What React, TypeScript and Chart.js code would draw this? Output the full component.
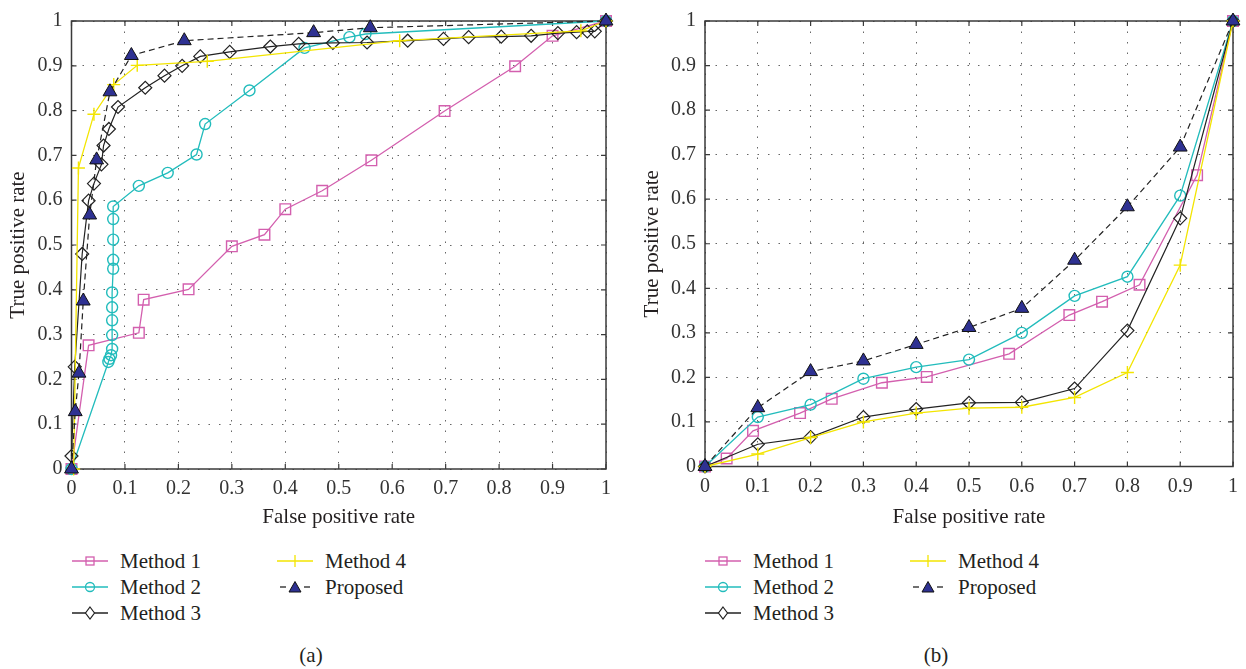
import React, { useEffect, useRef } from 'react';
import { Chart, registerables } from 'chart.js';

Chart.register(...registerables);

const tickLabels = ['0', '0.1', '0.2', '0.3', '0.4', '0.5', '0.6', '0.7', '0.8', '0.9', '1'];
const seriesNames = ['Method 1', 'Method 2', 'Method 3', 'Method 4', 'Proposed'];
const xTitle = 'False positive rate';
const yTitle = 'True positive rate';
const captions = ['(a)', '(b)'];

// ---- Panel (a) ----
const aM1x = [0, 0.032, 0.126, 0.135, 0.219, 0.3, 0.361, 0.4, 0.469, 0.561, 0.698, 0.83, 0.9, 1];
const aM1y = [0, 0.276, 0.304, 0.378, 0.401, 0.497, 0.523, 0.58, 0.621, 0.689, 0.799, 0.899, 0.967, 1];

const aM2x = [0, 0.069, 0.071, 0.074, 0.076, 0.076, 0.076, 0.076, 0.076, 0.078, 0.078, 0.078, 0.078, 0.078, 0.126, 0.18, 0.234, 0.25, 0.333, 0.436, 0.52, 0.55, 1];
const aM2y = [0, 0.239, 0.246, 0.254, 0.268, 0.299, 0.332, 0.361, 0.394, 0.447, 0.467, 0.512, 0.558, 0.586, 0.632, 0.661, 0.702, 0.77, 0.845, 0.94, 0.964, 0.971, 1];

const aM3x = [0, 0.006, 0.02, 0.032, 0.042, 0.056, 0.06, 0.07, 0.087, 0.138, 0.174, 0.207, 0.241, 0.296, 0.372, 0.425, 0.489, 0.553, 0.629, 0.696, 0.743, 0.804, 0.86, 0.91, 0.945, 0.965, 0.979, 1];
const aM3y = [0.029, 0.228, 0.48, 0.599, 0.637, 0.68, 0.722, 0.759, 0.808, 0.851, 0.878, 0.9, 0.921, 0.931, 0.943, 0.949, 0.951, 0.952, 0.956, 0.96, 0.964, 0.965, 0.967, 0.973, 0.975, 0.977, 0.977, 1];

const aM4x = [0.004, 0.013, 0.042, 0.079, 0.123, 0.254, 0.614, 0.953, 1];
const aM4y = [0, 0.672, 0.792, 0.858, 0.901, 0.91, 0.956, 0.978, 1];

const aPx = [0, 0.007, 0.014, 0.022, 0.034, 0.047, 0.072, 0.112, 0.211, 0.453, 0.559, 1];
const aPy = [0, 0.128, 0.214, 0.375, 0.567, 0.69, 0.842, 0.923, 0.956, 0.974, 0.985, 1];

// ---- Panel (b) ----
const bM1x = [0, 0.041, 0.091, 0.18, 0.24, 0.335, 0.42, 0.576, 0.69, 0.752, 0.823, 0.932, 1];
const bM1y = [0, 0.018, 0.08, 0.12, 0.152, 0.188, 0.201, 0.253, 0.34, 0.37, 0.408, 0.654, 1];

const bX = [0, 0.1, 0.2, 0.3, 0.4, 0.5, 0.6, 0.7, 0.8, 0.9, 1];
const bM2y = [0, 0.111, 0.139, 0.197, 0.223, 0.24, 0.3, 0.383, 0.426, 0.608, 1];
const bM3y = [0, 0.05, 0.066, 0.111, 0.129, 0.143, 0.144, 0.175, 0.305, 0.557, 1];
const bM4y = [0, 0.028, 0.065, 0.1, 0.12, 0.131, 0.133, 0.155, 0.211, 0.452, 1];
const bPy = [0, 0.132, 0.213, 0.237, 0.274, 0.312, 0.355, 0.463, 0.583, 0.717, 1];

const panelA = [
  { xs: aM1x, ys: aM1y },
  { xs: aM2x, ys: aM2y },
  { xs: aM3x, ys: aM3y },
  { xs: aM4x, ys: aM4y },
  { xs: aPx, ys: aPy },
];
const panelB = [
  { xs: bM1x, ys: bM1y },
  { xs: bX, ys: bM2y },
  { xs: bX, ys: bM3y },
  { xs: bX, ys: bM4y },
  { xs: bX, ys: bPy },
];

// ---- styles ----
const FONT = '"Liberation Serif", "DejaVu Serif", serif';
const TEXT = '#231f20';
const STY = [
  { line: '#d35fae', edge: '#d35fae', fill: 'rgba(0,0,0,0)', ps: 'rect', r: 7.5, lw: 1.3, pw: 1.4, dash: [] as number[], order: 4 },
  { line: '#22bcbc', edge: '#22bcbc', fill: 'rgba(0,0,0,0)', ps: 'circle', r: 5.5, lw: 1.3, pw: 1.4, dash: [] as number[], order: 3 },
  { line: '#222222', edge: '#222222', fill: 'rgba(255,255,255,0)', ps: 'rectRot', r: 6.5, lw: 1.2, pw: 1.2, dash: [] as number[], order: 2 },
  { line: '#f3e500', edge: '#f3e500', fill: 'rgba(0,0,0,0)', ps: 'cross', r: 6.5, lw: 1.3, pw: 1.4, dash: [] as number[], order: 1 },
  { line: '#222222', edge: '#111111', fill: '#2e3192', ps: 'triangle', r: 8, lw: 1.2, pw: 1, dash: [6, 4], order: 0 },
];

const boxPlugin = {
  id: 'boxTicks',
  beforeDatasetsDraw(chart: any) {
    const { ctx, chartArea: a, scales } = chart;
    ctx.save();
    ctx.strokeStyle = '#3a3a3a';
    ctx.lineWidth = 1.5;
    ctx.setLineDash([]);
    ctx.strokeRect(a.left, a.top, a.right - a.left, a.bottom - a.top);
    ctx.lineWidth = 1.2;
    ctx.beginPath();
    scales.x.ticks.forEach((t: any) => {
      const px = scales.x.getPixelForValue(t.value);
      ctx.moveTo(px, a.bottom);
      ctx.lineTo(px, a.bottom - 5);
      ctx.moveTo(px, a.top);
      ctx.lineTo(px, a.top + 5);
    });
    scales.y.ticks.forEach((t: any) => {
      const py = scales.y.getPixelForValue(t.value);
      ctx.moveTo(a.left, py);
      ctx.lineTo(a.left + 5, py);
      ctx.moveTo(a.right, py);
      ctx.lineTo(a.right - 5, py);
    });
    ctx.stroke();
    ctx.restore();
  },
};

type Layout = { yWidth: number; padRight: number; padTop: number; xHeight: number; yTitlePad: number; xTitlePad: number };

function makeChart(canvas: HTMLCanvasElement, sets: { xs: number[]; ys: number[] }[], L: Layout) {
  const datasets = sets.map((s, i) => ({
    label: seriesNames[i],
    data: s.xs.map((x, j) => ({ x, y: s.ys[j] })),
    showLine: true,
    borderColor: STY[i].line,
    borderWidth: STY[i].lw,
    borderDash: STY[i].dash,
    pointStyle: STY[i].ps,
    pointRadius: STY[i].r,
    pointBackgroundColor: STY[i].fill,
    pointBorderColor: STY[i].edge,
    pointBorderWidth: STY[i].pw,
    tension: 0,
    clip: false,
    order: STY[i].order,
  }));
  const tickFont = { family: FONT, size: 20 };
  const titleFont = { family: FONT, size: 21 };
  const axisCommon = {
    type: 'linear',
    min: 0,
    max: 1,
    grid: { color: '#666', lineWidth: 1, drawTicks: false },
    border: { display: false, dash: [1.5, 9] },
  };
  return new Chart(canvas, {
    type: 'scatter',
    data: { datasets } as any,
    plugins: [boxPlugin],
    options: {
      animation: false,
      responsive: false,
      events: [],
      layout: { padding: { left: 0, right: L.padRight, top: L.padTop, bottom: 0 } },
      plugins: { legend: { display: false }, tooltip: { enabled: false } },
      scales: {
        x: {
          ...axisCommon,
          ticks: { stepSize: 0.1, autoSkip: false, maxRotation: 0, padding: 8, color: '#333', font: tickFont, callback: (v: any) => tickLabels[Math.round(Number(v) * 10)] },
          title: { display: true, text: xTitle, color: TEXT, font: titleFont, padding: { top: 0, bottom: L.xTitlePad } },
          afterFit: (s: any) => { s.height = L.xHeight; },
        },
        y: {
          ...axisCommon,
          ticks: { stepSize: 0.1, autoSkip: false, padding: 9, color: '#333', font: tickFont, callback: (v: any) => tickLabels[Math.round(Number(v) * 10)] },
          title: { display: true, text: yTitle, color: TEXT, font: titleFont, padding: { top: L.yTitlePad, bottom: 0 } },
          afterFit: (s: any) => { s.width = L.yWidth; },
        },
      },
    } as any,
  });
}

function Sample({ i }: { i: number }) {
  const s = STY[i];
  const c = s.line;
  let marker: React.ReactNode = null;
  if (i === 0) marker = <rect x={14} y={4} width={8} height={8} fill="none" stroke={c} strokeWidth={1.3} />;
  if (i === 1) marker = <circle cx={18} cy={8} r={4.5} fill="none" stroke={c} strokeWidth={1.3} />;
  if (i === 2) marker = <polygon points="18,2 22.5,8 18,14 13.5,8" fill="white" stroke={c} strokeWidth={1.2} />;
  if (i === 3) marker = <line x1={18} y1={2} x2={18} y2={14} stroke={c} strokeWidth={1.3} />;
  if (i === 4) marker = <polygon points="18,2.5 24,13 12,13" fill={s.fill} stroke={s.edge} strokeWidth={1} />;
  return (
    <svg width={36} height={16} style={{ display: 'block' }}>
      {i === 4 ? (
        <g stroke={c} strokeWidth={1.3}>
          <line x1={3} y1={8} x2={9} y2={8} />
          <line x1={27} y1={8} x2={33} y2={8} />
        </g>
      ) : (
        <line x1={0} y1={8} x2={36} y2={8} stroke={c} strokeWidth={1.3} />
      )}
      {marker}
    </svg>
  );
}

function Legend({ left }: { left: number }) {
  const rows = [561, 587, 613];
  const items = [
    { i: 0, col: 0, row: 0 },
    { i: 1, col: 0, row: 1 },
    { i: 2, col: 0, row: 2 },
    { i: 3, col: 1, row: 0 },
    { i: 4, col: 1, row: 1 },
  ];
  return (
    <>
      {items.map((it) => {
        const sx = left + (it.col === 0 ? 0 : 205);
        const cy = rows[it.row];
        return (
          <React.Fragment key={it.i}>
            <div style={{ position: 'absolute', left: sx, top: cy - 8 }}>
              <Sample i={it.i} />
            </div>
            <div style={{ position: 'absolute', left: sx + 48, top: cy - 13, height: 26, lineHeight: '26px', fontFamily: FONT, fontSize: 21, color: TEXT, whiteSpace: 'nowrap' }}>
              {seriesNames[it.i]}
            </div>
          </React.Fragment>
        );
      })}
    </>
  );
}

export default function App() {
  const refA = useRef<HTMLCanvasElement>(null);
  const refB = useRef<HTMLCanvasElement>(null);
  useEffect(() => {
    const ca = makeChart(refA.current!, panelA, { yWidth: 71.5, padRight: 14, padTop: 16.5, xHeight: 540 - 469, yTitlePad: 5.5, xTitlePad: 10 });
    const cb = makeChart(refB.current!, panelB, { yWidth: 75, padRight: 13, padTop: 16, xHeight: 540 - 466.5, yTitlePad: 9.5, xTitlePad: 10 });
    return () => {
      ca.destroy();
      cb.destroy();
    };
  }, []);
  const cap = (text: string, cx: number) => (
    <div style={{ position: 'absolute', left: cx - 40, width: 80, top: 642, height: 26, lineHeight: '26px', textAlign: 'center', fontFamily: FONT, fontSize: 21, color: TEXT }}>{text}</div>
  );
  return (
    <div style={{ position: 'absolute', left: 0, top: 0, width: 1246, height: 669, background: '#fff', overflow: 'hidden' }}>
      <canvas ref={refA} width={620} height={540} style={{ position: 'absolute', left: 0, top: 0 }} />
      <canvas ref={refB} width={616} height={540} style={{ position: 'absolute', left: 630, top: 0 }} />
      <Legend left={72} />
      <Legend left={705} />
      {cap(captions[0], 311)}
      {cap(captions[1], 936)}
    </div>
  );
}
